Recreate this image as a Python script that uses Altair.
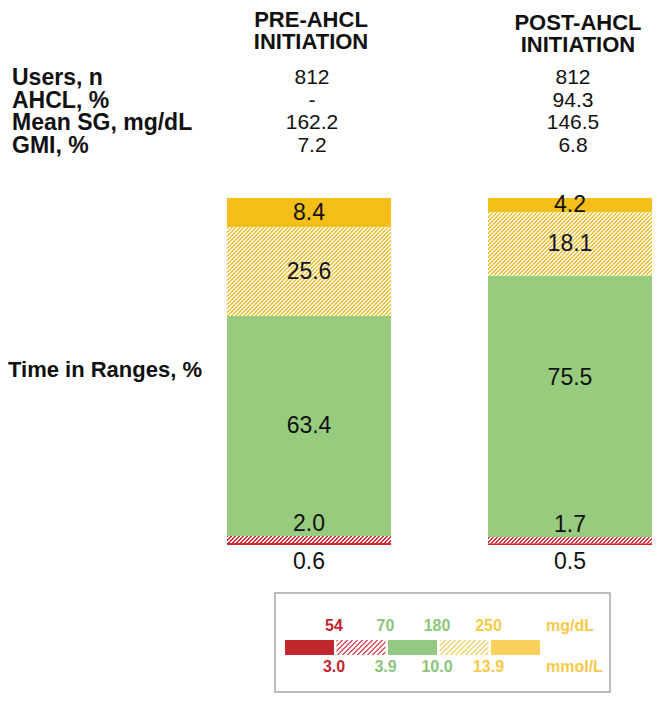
import altair as alt
import pandas as pd

# ---------------- data ----------------
GROUPS = ["PRE", "POST"]
HEADER_LINE1 = ["PRE-AHCL", "POST-AHCL"]
HEADER_LINE2 = ["INITIATION", "INITIATION"]
ROW_LABELS = ["Users, n", "AHCL, %", "Mean SG, mg/dL", "GMI, %"]
PRE_STATS = ["812", "-", "162.2", "7.2"]
POST_STATS = ["812", "94.3", "146.5", "6.8"]
TIR_TITLE = "Time in Ranges, %"
SEGMENTS = ["<54", "54-69", "70-180", "181-250", ">250"]
PRE_TIR = [0.6, 2.0, 63.4, 25.6, 8.4]
POST_TIR = [0.5, 1.7, 75.5, 18.1, 4.2]
LEGEND_MGDL = ["54", "70", "180", "250"]
LEGEND_MMOL = ["3.0", "3.9", "10.0", "13.9"]
UNIT_MGDL = "mg/dL"
UNIT_MMOL = "mmol/L"

# ---------------- style ----------------
W, H = 644, 685
FONT = "Liberation Sans, Arial, sans-serif"
BAR_X_RANGE = [219, 644]
BAR_PAD = 0.3716
BAR_W = 164
Y_RANGE = [537, 190]
PX_PER_PCT = (Y_RANGE[0] - Y_RANGE[1]) / 100.0
ROW_Y_RANGE = [70, 138]

RED = "#d0262d"
RED_HATCH = "#d42d34"
GREEN = "#97cb7e"
YELLOW = "#f5be19"
YELLOW_HATCH = "#f6c53c"

LEG_RED = "#c3272e"
LEG_RED_HATCH = "#dc5a60"
LEG_GREEN = "#93c983"
LEG_YELLOW = "#f8d05a"
LEG_YELLOW_HATCH = "#f6d47a"
TXT_RED = "#c0272d"
TXT_GREEN = "#8cc57c"
TXT_YELLOW = "#f7c948"

LEG_X_RANGE = [277, 532]
LEG_PAD = 0.0485
LEG_W = 49
LEG_Y = [632, 647]
LEG_FRAME = (267, 602, 585, 684)


def hatch(color, bg, w, h, period=4, on=2, span=256):
    """45-degree stripes as a hard-stop linear gradient (bbox units),
    one gradient unit step = 1 px of (x + y)."""
    r = h / w
    s = span / (w * (1 + r * r))
    stops = []
    for j in range(0, span, period):
        a = j / span
        b = min(j + on, span) / span
        c = min(j + period, span) / span
        stops += [{"offset": a, "color": color}, {"offset": b, "color": color},
                  {"offset": b, "color": bg}, {"offset": c, "color": bg}]
    return {"gradient": "linear", "x1": 0, "y1": 0, "x2": s, "y2": s * r,
            "stops": stops}


# ---------------- tables ----------------
LABEL_NUDGE_PX = {("POST", "70-180"): 28}
LOW_GAP_PX = 12
VLOW_GAP_PX = 16.5

rows = []
for g, vals in zip(GROUPS, [PRE_TIR, POST_TIR]):
    acc = 0.0
    for seg, v in zip(SEGMENTS, vals):
        y0, y1 = acc, acc + v
        acc = y1
        if seg == "<54":
            ly = y0 - VLOW_GAP_PX / PX_PER_PCT
        elif seg == "54-69":
            ly = y1 + LOW_GAP_PX / PX_PER_PCT
        else:
            ly = (y0 + y1) / 2 + LABEL_NUDGE_PX.get((g, seg), 0) / PX_PER_PCT
        rows.append({"group": g, "seg": seg, "value": v, "y0": y0, "y1": y1,
                     "label": f"{v:.1f}", "label_y": ly})
bars = pd.DataFrame(rows)

stats = pd.DataFrame(
    [{"group": g, "row": r, "text": t}
     for g, col in zip(GROUPS, [PRE_STATS, POST_STATS])
     for r, t in zip(ROW_LABELS, col)])
rowlab = pd.DataFrame({"row": ROW_LABELS})
headers = pd.DataFrame({"group": GROUPS, "l1": HEADER_LINE1, "l2": HEADER_LINE2})
legend_sw = pd.DataFrame({"seg": SEGMENTS})
legend_lab = pd.DataFrame({"seg": SEGMENTS[:4], "top": LEGEND_MGDL, "bot": LEGEND_MMOL})
one = pd.DataFrame({"k": [0]})

X_BARS = alt.Scale(type="band", domain=GROUPS, range=BAR_X_RANGE,
                   paddingInner=BAR_PAD, paddingOuter=0)
Y_SCALE = alt.Scale(domain=[0, 100], range=Y_RANGE, nice=False, zero=False)
Y_ROWS = alt.Scale(type="point", domain=ROW_LABELS, range=ROW_Y_RANGE, padding=0)
X_LEG = alt.Scale(type="band", domain=SEGMENTS, range=LEG_X_RANGE,
                  paddingInner=LEG_PAD, paddingOuter=0)

layers = []

# solid bar segments
solid = ["<54", "70-180", ">250"]
layers.append(
    alt.Chart(bars).transform_filter(alt.FieldOneOfPredicate(field="seg", oneOf=solid))
    .mark_rect()
    .encode(x=alt.X("group:N", scale=X_BARS, axis=None),
            y=alt.Y("y0:Q", scale=Y_SCALE, axis=None), y2="y1:Q",
            color=alt.Color("seg:N", scale=alt.Scale(domain=solid, range=[RED, GREEN, YELLOW]),
                            legend=None))
)

# hatched bar segments
for g, vals in zip(GROUPS, [PRE_TIR, POST_TIR]):
    for seg, col in [("54-69", RED_HATCH), ("181-250", YELLOW_HATCH)]:
        v = vals[SEGMENTS.index(seg)]
        grad = hatch(col, "#ffffff", BAR_W, v * PX_PER_PCT)
        layers.append(
            alt.Chart(bars)
            .transform_filter((alt.datum.group == g) & (alt.datum.seg == seg))
            .mark_rect(fill=grad)
            .encode(x=alt.X("group:N", scale=X_BARS, axis=None),
                    y=alt.Y("y0:Q", scale=Y_SCALE, axis=None), y2="y1:Q")
        )

# bar value labels
layers.append(
    alt.Chart(bars).mark_text(font=FONT, fontSize=23, color="#111111", baseline="middle")
    .encode(x=alt.X("group:N", scale=X_BARS, axis=None),
            y=alt.Y("label_y:Q", scale=Y_SCALE, axis=None),
            text="label:N")
)

# headers (post header sits a little lower/right in the reference)
HEADER_SHIFT = {"PRE": (2, 0), "POST": (8, 3)}
for g in GROUPS:
    dx, dy = HEADER_SHIFT[g]
    for field, ypos in [("l1", 12), ("l2", 34)]:
        layers.append(
            alt.Chart(headers).transform_filter(alt.datum.group == g)
            .mark_text(font=FONT, fontSize=22, fontWeight="bold", color="#111111",
                       baseline="middle", dx=dx, dy=dy)
            .encode(x=alt.X("group:N", scale=X_BARS, axis=None), y=alt.value(ypos),
                    text=f"{field}:N")
        )

# table row labels and values
layers.append(
    alt.Chart(rowlab).mark_text(font=FONT, fontSize=23, fontWeight="bold",
                                color="#111111", align="left", baseline="middle")
    .encode(x=alt.value(4), y=alt.Y("row:N", scale=Y_ROWS, axis=None), text="row:N")
)
layers.append(
    alt.Chart(stats).mark_text(font=FONT, fontSize=21, color="#111111", baseline="middle",
                               dx=3)
    .encode(x=alt.X("group:N", scale=X_BARS, axis=None),
            y=alt.Y("row:N", scale=Y_ROWS, axis=None), text="text:N")
)
layers.append(
    alt.Chart(one).mark_text(text=TIR_TITLE, font=FONT, fontSize=22, fontWeight="bold",
                             color="#111111", align="left", baseline="middle")
    .encode(x=alt.value(0), y=alt.value(362))
)

# legend frame
layers.append(
    alt.Chart(one).mark_rect(fill="#ffffff", stroke="#a6a6a6", strokeWidth=1.5)
    .encode(x=alt.value(LEG_FRAME[0]), x2=alt.value(LEG_FRAME[1]),
            y=alt.value(LEG_FRAME[2]), y2=alt.value(LEG_FRAME[3]))
)
# legend swatches
layers.append(
    alt.Chart(legend_sw).transform_filter(alt.FieldOneOfPredicate(field="seg", oneOf=solid))
    .mark_rect()
    .encode(x=alt.X("seg:N", scale=X_LEG, axis=None),
            y=alt.value(LEG_Y[0]), y2=alt.value(LEG_Y[1]),
            color=alt.Color("seg:N", scale=alt.Scale(domain=solid,
                                                     range=[LEG_RED, LEG_GREEN, LEG_YELLOW]),
                            legend=None))
)
for seg, col in [("54-69", LEG_RED_HATCH), ("181-250", LEG_YELLOW_HATCH)]:
    grad = hatch(col, "#ffffff", LEG_W, LEG_Y[1] - LEG_Y[0], period=5, on=2)
    layers.append(
        alt.Chart(legend_sw).transform_filter(alt.datum.seg == seg)
        .mark_rect(fill=grad)
        .encode(x=alt.X("seg:N", scale=X_LEG, axis=None),
                y=alt.value(LEG_Y[0]), y2=alt.value(LEG_Y[1]))
    )
LAB_COLORS = alt.Scale(domain=SEGMENTS[:4], range=[TXT_RED, TXT_GREEN, TXT_GREEN, TXT_YELLOW])
for field, ypos in [("top", 618), ("bot", 659)]:
    layers.append(
        alt.Chart(legend_lab).mark_text(font=FONT, fontSize=16, fontWeight="bold",
                                        baseline="middle")
        .encode(x=alt.X("seg:N", scale=X_LEG, axis=None, bandPosition=1),
                y=alt.value(ypos), text=f"{field}:N",
                color=alt.Color("seg:N", scale=LAB_COLORS, legend=None))
    )
for txt, ypos in [(UNIT_MGDL, 618), (UNIT_MMOL, 659)]:
    layers.append(
        alt.Chart(one).mark_text(text=txt, font=FONT, fontSize=16, fontWeight="bold",
                                 color=TXT_YELLOW, align="left", baseline="middle")
        .encode(x=alt.value(538), y=alt.value(ypos))
    )

chart = (
    alt.layer(*layers)
    .resolve_scale(x="independent", y="independent", color="independent")
    .properties(width=W, height=H, padding=0, autosize=alt.AutoSizeParams(type="none"))
    .configure_view(stroke=None)
)
chart.save("out.html", embed_options={"renderer": "svg", "actions": False})
